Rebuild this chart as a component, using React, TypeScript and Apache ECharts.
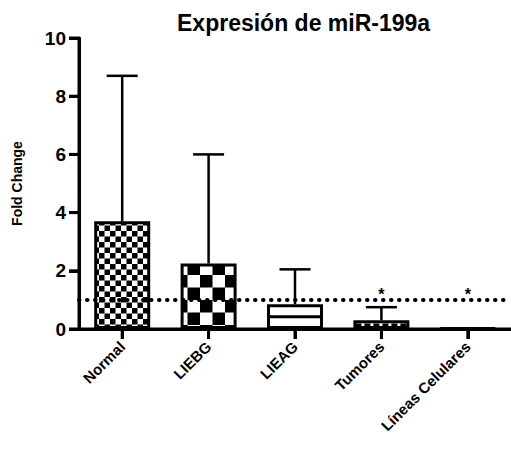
import React, { useEffect, useRef } from "react";
import * as echarts from "echarts";

const categories = ["Normal", "LIEBG", "LIEAG", "Tumores", "Líneas Celulares"];
const means = [3.7, 2.25, 0.85, 0.3, 0.03];
const upperErr = [8.7, 6.0, 2.05, 0.75, 0.03];
const stars = ["", "", "", "*", "*"];
const yTicks = [0, 2, 4, 6, 8, 10];
const refLine = 1;
const fills = ["small", "big", "hline", "dash", "none"];

function makePattern(kind: string): HTMLCanvasElement {
  const c = document.createElement("canvas");
  const ctx = c.getContext("2d")!;
  let s = 5;
  if (kind === "small") s = 5.5;
  else if (kind === "big") s = 12.5;
  c.width = Math.round(s * 2);
  c.height = Math.round(s * 2);
  ctx.fillStyle = "#fff";
  ctx.fillRect(0, 0, c.width, c.height);
  if (kind === "small" || kind === "big") {
    ctx.fillStyle = "#000";
    const h = c.width / 2;
    ctx.fillRect(0, 0, h, h);
    ctx.fillRect(h, h, h, h);
  }
  return c;
}

export default function App() {
  const ref = useRef<HTMLDivElement>(null);
  useEffect(() => {
    if (!ref.current) return;
    const chart = echarts.init(ref.current, null, { renderer: "svg" });
    const barData = means.map((v, i) => ({
      value: v,
      itemStyle: {
        color: { image: makePattern(fills[i]), repeat: "repeat" } as any,
        borderColor: "#000",
        borderWidth: 3,
      },
    }));
    const errData = means.map((v, i) => [i, v, upperErr[i]]);
    const yMax = yTicks[yTicks.length - 1];
    chart.setOption({
      animation: false,
      title: {
        text: "Expresión de miR-199a",
        left: 172,
        top: 6,
        textStyle: { fontFamily: "Arial", fontWeight: "bold", fontSize: 23, color: "#000" },
      },
      grid: { left: 79, top: 38, right: 0, bottom: 127 },
      xAxis: {
        type: "category",
        data: categories,
        axisLine: { show: true, lineStyle: { color: "#000", width: 3 } },
        axisTick: { show: true, alignWithLabel: true, length: 10, lineStyle: { width: 3, color: "#000" } },
        axisLabel: {
          rotate: 45,
          margin: 15,
          color: "#000",
          fontFamily: "Arial",
          fontWeight: "bold",
          fontSize: 15,
        },
      },
      yAxis: {
        type: "value",
        min: 0,
        max: 10,
        interval: 2,
        name: "Fold Change",
        nameLocation: "middle",
        nameRotate: 90,
        nameGap: 55,
        nameTextStyle: { fontFamily: "Arial", fontWeight: "bold", fontSize: 14, color: "#000" },
        splitLine: { show: false },
        axisLine: { show: true, lineStyle: { color: "#000", width: 3 } },
        axisTick: { show: true, length: 10, lineStyle: { width: 3, color: "#000" } },
        axisLabel: {
          margin: 13,
          color: "#000",
          fontFamily: "Arial",
          fontWeight: "bold",
          fontSize: 19,
        },
      },
      series: [
        {
          type: "bar",
          data: barData,
          barWidth: 56,
          z: 2,
          markLine: {
            silent: true,
            symbol: "none",
            label: { show: false },
            lineStyle: { type: [0.5, 7.5], cap: "round", width: 4, color: "#000" },
            data: [{ yAxis: refLine }],
          },
        },
        {
          type: "custom",
          z: 3,
          clip: false,
          data: errData,
          renderItem: (params: any, api: any) => {
            const idx = params.dataIndex;
            const i = api.value(0);
            const base = api.coord([i, api.value(1)]);
            const top = api.coord([i, api.value(2)]);
            const zero = api.coord([i, 0]);
            const ref1 = api.coord([i, refLine]);
            const bw = api.size([1, 0])[0];
            const children: any[] = [];
            const axisStyle = { stroke: "#000", lineWidth: 3 };
            if (idx === 0) {
              const leftX = zero[0] - bw / 2;
              const rightX = leftX + bw * categories.length;
              const yTop = api.coord([0, yMax])[1];
              children.push({
                type: "line",
                shape: { x1: leftX, y1: zero[1] + 1.5, x2: leftX, y2: yTop },
                style: axisStyle,
              });
              children.push({
                type: "line",
                shape: { x1: leftX, y1: zero[1], x2: rightX, y2: zero[1] },
                style: axisStyle,
              });
              yTicks.forEach((t) => {
                const ty = api.coord([0, t])[1];
                children.push({
                  type: "line",
                  shape: { x1: leftX - 10, y1: ty, x2: leftX, y2: ty },
                  style: axisStyle,
                });
              });
            }
            children.push({
              type: "line",
              shape: { x1: zero[0], y1: zero[1], x2: zero[0], y2: zero[1] + 10 },
              style: axisStyle,
            });
            const midY = (base[1] + zero[1]) / 2;
            if (fills[idx] === "hline") {
              children.push({
                type: "line",
                shape: { x1: base[0] - 27, y1: midY, x2: base[0] + 27, y2: midY },
                style: { stroke: "#000", lineWidth: 3 },
              });
            } else if (fills[idx] === "dash") {
              children.push({
                type: "line",
                shape: { x1: base[0] - 26, y1: midY, x2: base[0] + 26, y2: midY },
                style: { stroke: "#000", lineWidth: 2.5, lineDash: [6, 3] },
              });
            }
            if (api.value(2) > api.value(1)) {
              children.push({
                type: "line",
                shape: { x1: base[0], y1: base[1], x2: top[0], y2: top[1] },
                style: { stroke: "#000", lineWidth: 2.5 },
              });
              children.push({
                type: "line",
                shape: { x1: top[0] - 15.5, y1: top[1], x2: top[0] + 15.5, y2: top[1] },
                style: { stroke: "#000", lineWidth: 2.5 },
              });
            }
            if (stars[idx]) {
              children.push({
                type: "text",
                x: ref1[0],
                y: ref1[1] + 3,
                style: {
                  text: stars[idx],
                  fill: "#000",
                  font: "bold 16px Arial",
                  textAlign: "center",
                  textVerticalAlign: "bottom",
                },
              });
            }
            return { type: "group", children };
          },
        },
      ],
    });
    return () => chart.dispose();
  }, []);
  return <div ref={ref} style={{ width: 511, height: 456, position: "absolute", left: 0, top: 0 }} />;
}
